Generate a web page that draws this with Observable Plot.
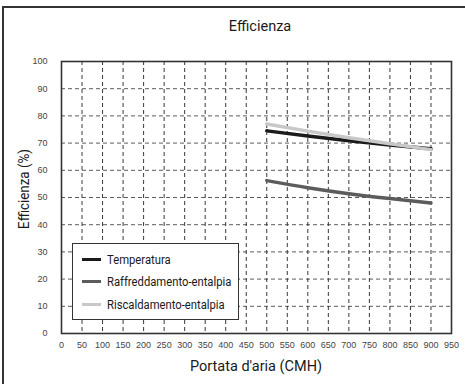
<!DOCTYPE html>
<html>
<head>
<meta charset="utf-8">
<script src="https://cdn.jsdelivr.net/npm/d3@7"></script>
<script src="https://cdn.jsdelivr.net/npm/@observablehq/plot@0.6"></script>
<style>
  html, body { margin: 0; padding: 0; background: #fff; }
  #wrap { position: relative; width: 465px; height: 384px; overflow: hidden; background: #fff; }
  .cond { font-family: Roboto, "Liberation Sans", sans-serif; color: #1a1a1a; }
  #border { position: absolute; left: 2px; top: 6px; width: 470px; height: 390px; border: 2px solid #333; box-sizing: border-box; }
  #title { position: absolute; top: 18px; left: 160px; width: 200px; text-align: center; font-size: 14.5px; }
  #xlabel { position: absolute; top: 358px; left: 156px; width: 200px; text-align: center; font-size: 14.5px; }
  #ylabel { position: absolute; left: 24px; top: 189px; transform: translate(-50%, -50%) rotate(-90deg) scaleX(0.92); white-space: nowrap; font-size: 14.5px; }
  #legend { position: absolute; left: 72px; top: 243px; width: 167px; height: 77px; border: 1px solid #333; background: #fff; box-sizing: border-box; }
  .item { position: absolute; left: 9px; font-size: 12.5px; white-space: nowrap; display: flex; align-items: center; }
  .sw { display: inline-block; width: 19px; height: 3px; margin-right: 6px; }
  .lt { display: inline-block; transform: scaleX(0.9); transform-origin: left center; }
  svg { position: absolute; left: 0; top: 0; }
</style>
</head>
<body>
<div id="wrap">
  <div id="border"></div>
  <div id="chart"></div>
  <div id="title" class="cond">Efficienza</div>
  <div id="xlabel" class="cond">Portata d'aria (CMH)</div>
  <div id="ylabel" class="cond">Efficienza (%)</div>
  <div id="legend" class="cond"></div>
</div>
<script>
const flows = [500, 600, 700, 800, 900];
const temperatura = [74.5, 72.6, 70.9, 69.3, 67.9];
const raffreddamento = [56.2, 53.6, 51.4, 49.6, 48.0];
const riscaldamento = [77.0, 74.4, 72.0, 69.8, 67.6];
const seriesNames = ["Temperatura", "Raffreddamento-entalpia", "Riscaldamento-entalpia"];
const seriesColors = ["#1a1a1a", "#5c5c5c", "#c8c8c8"];
const xTicks = d3.range(0, 951, 50);
const yTicks = d3.range(0, 101, 10);

const rows = [];
[temperatura, raffreddamento, riscaldamento].forEach((vals, i) => {
  vals.forEach((v, j) => rows.push({series: seriesNames[i], x: flows[j], y: v}));
});
const drawOrder = [seriesNames[1], seriesNames[0], seriesNames[2]];

const plot = Plot.plot({
  width: 465,
  height: 384,
  marginLeft: 61,
  marginRight: 14,
  marginTop: 61,
  marginBottom: 51,
  style: {fontFamily: "'Liberation Sans', Arial, sans-serif", fontSize: "9px", background: "transparent"},
  x: {domain: [0, 950], ticks: xTicks},
  y: {domain: [0, 100], ticks: yTicks},
  color: {domain: seriesNames, range: seriesColors},
  marks: [
    Plot.gridX(xTicks.slice(1, -1), {stroke: "#222", strokeOpacity: 0.9, strokeDasharray: "4,3"}),
    Plot.gridY(yTicks.slice(1, -1), {stroke: "#333", strokeOpacity: 0.8, strokeDasharray: "4,3"}),
    Plot.axisX(xTicks, {tickSize: 0, tickPadding: 8, fill: "#444", label: null}),
    Plot.axisY(yTicks, {tickSize: 0, tickPadding: 14, fill: "#444", label: null}),
    ...drawOrder.map(name => Plot.line(rows.filter(d => d.series === name), {
      x: "x", y: "y", stroke: "series", strokeWidth: 3.5, curve: "monotone-x"
    })),
    Plot.frame({stroke: "#333", strokeWidth: 1.6})
  ]
});
document.getElementById("chart").appendChild(plot);

const legend = document.getElementById("legend");
const tops = [8, 30, 53];
seriesNames.forEach((name, i) => {
  const it = document.createElement("div");
  it.className = "item";
  it.style.top = tops[i] + "px";
  const sw = document.createElement("span");
  sw.className = "sw";
  sw.style.background = seriesColors[i];
  it.appendChild(sw);
  const tx = document.createElement("span");
  tx.className = "lt";
  tx.textContent = name;
  it.appendChild(tx);
  legend.appendChild(it);
});
</script>
</body>
</html>
